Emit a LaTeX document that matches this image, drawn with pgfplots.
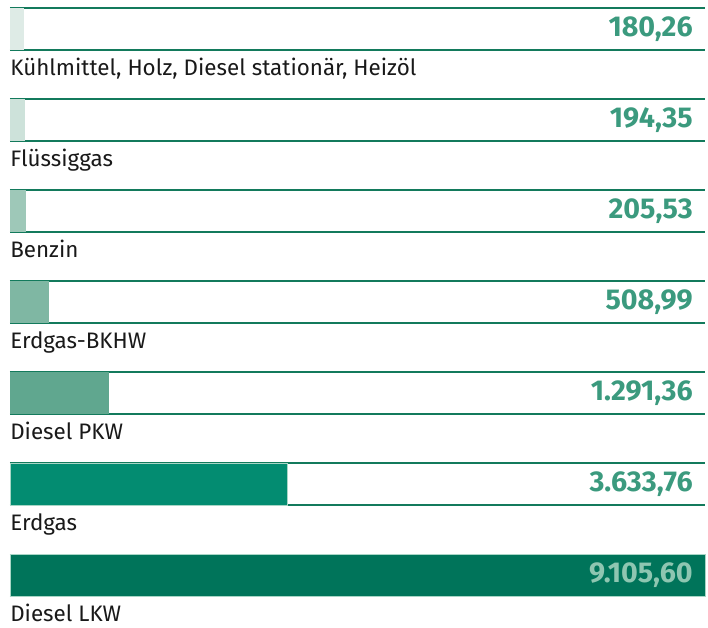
\documentclass[border=0pt]{standalone}
\usepackage{fontspec}
\setmainfont{Fira Sans}
\usepackage{pgfplots}
\usepackage{pgfplotstable}
\pgfplotsset{compat=1.18}
\definecolor{c1}{HTML}{DEEBE6}
\definecolor{c2}{HTML}{CDE2DA}
\definecolor{c3}{HTML}{9EC8B8}
\definecolor{c4}{HTML}{7FB7A3}
\definecolor{c5}{HTML}{60A78F}
\definecolor{c6}{HTML}{038C71}
\definecolor{c7}{HTML}{00745A}
\definecolor{linec}{HTML}{137A5C}
\definecolor{valc}{HTML}{3B9A7E}
\definecolor{vallast}{HTML}{8EC6B1}
\definecolor{edgec}{HTML}{A8D6C6}

\pgfplotstableread[col sep=semicolon]{
y;v;full;label
29;180.26;9105.6;Kühlmittel, Holz, Diesel stationär, Heizöl
120;194.35;9105.6;Flüssiggas
211;205.53;9105.6;Benzin
302;508.99;9105.6;Erdgas-BKHW
393;1291.36;9105.6;Diesel PKW
484;3633.76;9105.6;Erdgas
}\datatop
\pgfplotstableread[col sep=semicolon]{
y;v;full;label
575.5;9105.60;9105.6;Diesel LKW
}\datalast

\begin{document}
\begin{tikzpicture}
\useasboundingbox (-7.5pt,0) rectangle (523.5pt,471pt);
\begin{axis}[
  scale only axis,
  width=521.25pt, height=471pt,
  xmin=0, xmax=9105.6,
  ymin=0, ymax=628,
  y dir=reverse,
  hide axis,
  clip=false,
  /pgf/number format/.cd, use comma, 1000 sep={.}, fixed, fixed zerofill, precision=2, assume math mode=true,
]
\pgfplotsinvokeforeach{29,120,211,302,393,484,575.5}{
  \draw[linec, line width=1.1pt] (axis cs:0,#1-21) -- (axis cs:9105.6,#1-21);
  \draw[linec, line width=1.1pt] (axis cs:0,#1+21) -- (axis cs:9105.6,#1+21);
}
\addplot[xbar, bar width=42, bar shift=0pt, fill=c1, draw=none] coordinates {(180.26,29)};
\addplot[xbar, bar width=42, bar shift=0pt, fill=c2, draw=none] coordinates {(194.35,120)};
\addplot[xbar, bar width=42, bar shift=0pt, fill=c3, draw=none] coordinates {(205.53,211)};
\addplot[xbar, bar width=42, bar shift=0pt, fill=c4, draw=none] coordinates {(508.99,302)};
\addplot[xbar, bar width=42, bar shift=0pt, fill=c5, draw=none] coordinates {(1291.36,393)};
\addplot[xbar, bar width=42, bar shift=0pt, fill=c6, draw=edgec, line width=0.6pt] coordinates {(3633.76,484)};
\addplot[xbar, bar width=42, bar shift=0pt, fill=c7, draw=edgec, line width=0.6pt] coordinates {(9105.60,575.5)};
% value labels
\addplot[draw=none, mark=none, point meta=explicit,
  nodes near coords,
  every node near coord/.style={anchor=east, inner sep=0pt, xshift=-9pt, text=valc, font=\fontsize{21.5}{24}\selectfont\bfseries}]
  table[x=full, y=y, meta=v] {\datatop};
\addplot[draw=none, mark=none, point meta=explicit,
  nodes near coords,
  every node near coord/.style={anchor=east, inner sep=0pt, xshift=-9pt, text=vallast, font=\fontsize{21.5}{24}\selectfont\bfseries}]
  table[x=full, y=y, meta=v] {\datalast};
% category labels
\addplot[draw=none, mark=none, point meta=explicit symbolic,
  nodes near coords,
  every node near coord/.style={anchor=base west, inner sep=0pt, yshift=-34.5pt, text=black!90, font=\fontsize{16.8}{19}\selectfont}]
  table[x expr=0, y=y, meta=label] {\datatop};
\addplot[draw=none, mark=none, point meta=explicit symbolic,
  nodes near coords,
  every node near coord/.style={anchor=base west, inner sep=0pt, yshift=-34.5pt, text=black!90, font=\fontsize{16.8}{19}\selectfont}]
  table[x expr=0, y=y, meta=label] {\datalast};
\end{axis}
\end{tikzpicture}
\end{document}
